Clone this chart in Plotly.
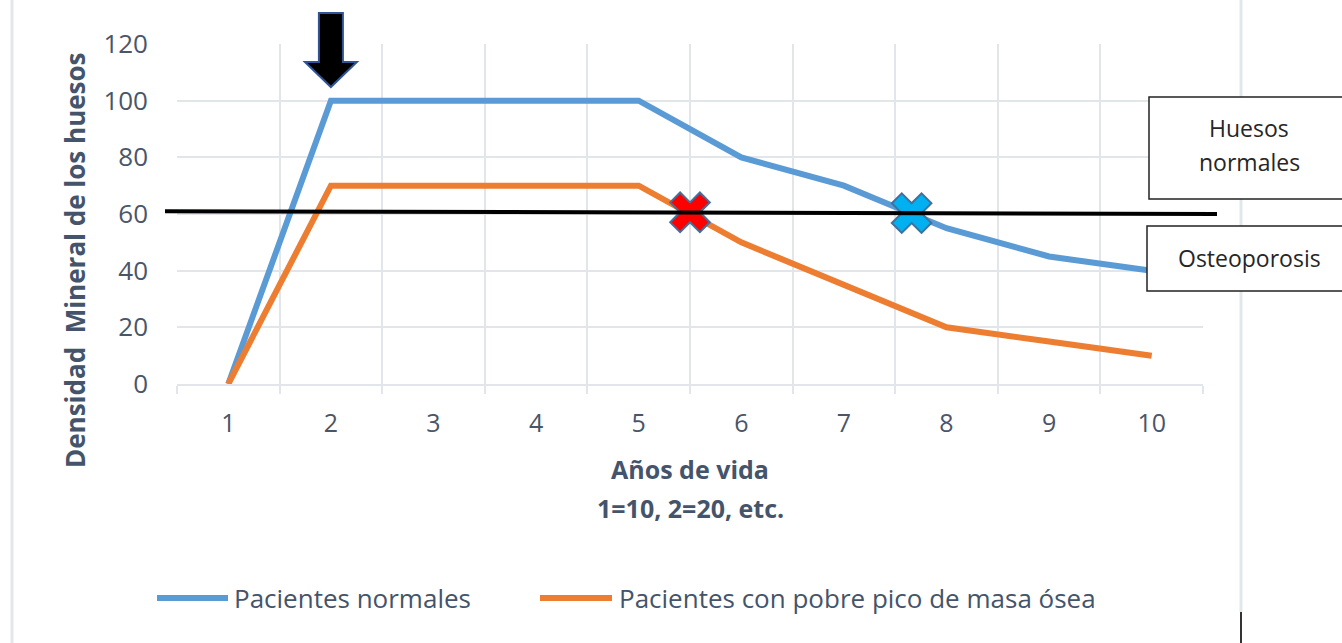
import plotly.graph_objects as go

# Chart data
years = [1, 2, 3, 4, 5, 6, 7, 8, 9, 10]
normales = [0, 100, 100, 100, 100, 80, 70, 55, 45, 40]
pobre_pico = [0, 70, 70, 70, 70, 50, 35, 20, 15, 10]
y_ticks = [0, 20, 40, 60, 80, 100, 120]

series_names = ["Pacientes normales", "Pacientes con pobre pico de masa ósea"]
series_colors = ["#5B9BD5", "#ED7D31"]

# Threshold line (osteoporosis limit), left and right value
umbral = [61.0, 60.0]
# Crossing points marked with crosses
cruce_x = [5.5, 7.66]
cruce_y = [60.6, 60.3]
cruce_colores = ["#FF0000", "#00B0F0"]

FONT = "Open Sans"
TXT = "#4A5568"
TITLE = "#44546A"
GRID = "#E2E6EB"

# plot-area geometry in pixels, used to place paper-anchored decorations
L, R, T, B = 177, 1203, 44, 384


def px(x):
    return (x - L) / (R - L)


def py(y):
    return (B - y) / (B - T)


fig = go.Figure()

for vals, name, col in zip([normales, pobre_pico], series_names, series_colors):
    fig.add_trace(go.Scatter(
        x=years, y=vals, mode="lines", name=name,
        line=dict(color=col, width=6), showlegend=False,
    ))

fig.add_trace(go.Scatter(
    x=cruce_x, y=cruce_y, mode="markers", showlegend=False,
    marker=dict(symbol="x", size=35, color=cruce_colores,
                line=dict(color="#41719C", width=2)),
    cliponaxis=False,
))

shapes = []
# black threshold line, extends past the plot area
shapes.append(dict(type="line", xref="paper", yref="y",
                   x0=px(165), x1=px(1217), y0=umbral[0], y1=umbral[1],
                   line=dict(color="black", width=4), layer="above"))

# block arrow pointing at the peak
ax = 2.0
sw, hw = 0.117, 0.253
p_top, p_head, p_tip = py(13), py(62), py(87)
arrow = (f"M{ax - sw},{p_top} L{ax + sw},{p_top} L{ax + sw},{p_head} "
         f"L{ax + hw},{p_head} L{ax},{p_tip} L{ax - hw},{p_head} "
         f"L{ax - sw},{p_head} Z")
shapes.append(dict(type="path", xref="x", yref="paper", path=arrow,
                   fillcolor="black", line=dict(color="#2F5597", width=2)))

# chart frame lines
shapes.append(dict(type="line", xref="paper", yref="paper",
                   x0=px(12), x1=px(12), y0=py(-10), y1=py(660),
                   line=dict(color="#E3E7EC", width=3)))
shapes.append(dict(type="line", xref="paper", yref="paper",
                   x0=px(1241), x1=px(1241), y0=py(-10), y1=py(612),
                   line=dict(color="#E3E7EC", width=3)))
shapes.append(dict(type="line", xref="paper", yref="paper",
                   x0=px(1241), x1=px(1241), y0=py(612), y1=py(660),
                   line=dict(color="#333333", width=2)))

# text boxes
shapes.append(dict(type="rect", xref="paper", yref="paper",
                   x0=px(1149), x1=px(1360), y0=py(199), y1=py(97),
                   fillcolor="white", line=dict(color="#222222", width=1.5)))
shapes.append(dict(type="rect", xref="paper", yref="paper",
                   x0=px(1147), x1=px(1360), y0=py(291), y1=py(226),
                   fillcolor="white", line=dict(color="#222222", width=1.5)))

# legend keys
legend_keys = [(157, 228, 232), (540, 612, 617)]
for (x0, x1, _), col in zip(legend_keys, series_colors):
    shapes.append(dict(type="line", xref="paper", yref="paper",
                       x0=px(x0), x1=px(x1), y0=py(598), y1=py(598),
                       line=dict(color=col, width=6)))

box_font = dict(family=FONT, size=23, color="#262626")
annotations = [
    dict(text="Huesos", xref="paper", yref="paper",
         x=px(1249), y=py(128), xanchor="center", yanchor="middle",
         showarrow=False, font=box_font),
    dict(text="normales", xref="paper", yref="paper",
         x=px(1249), y=py(162), xanchor="center", yanchor="middle",
         showarrow=False, font=box_font),
    dict(text="Osteoporosis", xref="paper", yref="paper",
         x=px(1249), y=py(258), xanchor="center", yanchor="middle",
         showarrow=False, font=box_font),
    dict(text="<b>Densidad  Mineral de los huesos</b>", xref="paper", yref="paper",
         x=px(75), y=py(260), xanchor="center", yanchor="middle",
         textangle=-90, showarrow=False,
         font=dict(family=FONT, size=26, color=TITLE)),
    dict(text="<b>1=10, 2=20, etc.</b>", xref="paper", yref="paper",
         x=px(690), y=py(508), xanchor="center", yanchor="middle",
         showarrow=False, font=dict(family=FONT, size=25, color=TITLE)),
]
for (_, _, tx), name in zip(legend_keys, series_names):
    annotations.append(dict(text=name, xref="paper", yref="paper",
                            x=px(tx), y=py(598), xanchor="left", yanchor="middle",
                            showarrow=False,
                            font=dict(family=FONT, size=26, color=TITLE)))

fig.update_layout(
    width=1342, height=643,
    margin=dict(l=L, r=1342 - R, t=T, b=643 - B),
    paper_bgcolor="white", plot_bgcolor="white",
    font=dict(family=FONT, color=TXT),
    shapes=shapes, annotations=annotations,
    showlegend=False,
    xaxis=dict(
        range=[0.5, 10.5], tickmode="array", tickvals=years,
        ticktext=[str(v) for v in years], ticks="", showgrid=False,
        zeroline=False, showline=True, linecolor=GRID, linewidth=2,
        tickfont=dict(family=FONT, size=25, color=TXT),
        ticklabelstandoff=16,
        minor=dict(tick0=0.5, dtick=1, showgrid=True, gridcolor=GRID,
                   gridwidth=2, ticks="outside", ticklen=8,
                   tickcolor=GRID, tickwidth=2),
        title=dict(text="<b>Años de vida</b>",
                   font=dict(family=FONT, size=25, color=TITLE),
                   standoff=23),
    ),
    yaxis=dict(
        range=[0, 120], tickmode="array", tickvals=y_ticks,
        showgrid=True, gridcolor=GRID, gridwidth=2, zeroline=False,
        showline=False, ticks="", ticklabelstandoff=28,
        tickfont=dict(family=FONT, size=26, color=TXT),
    ),
)

fig.write_html("out.html")
